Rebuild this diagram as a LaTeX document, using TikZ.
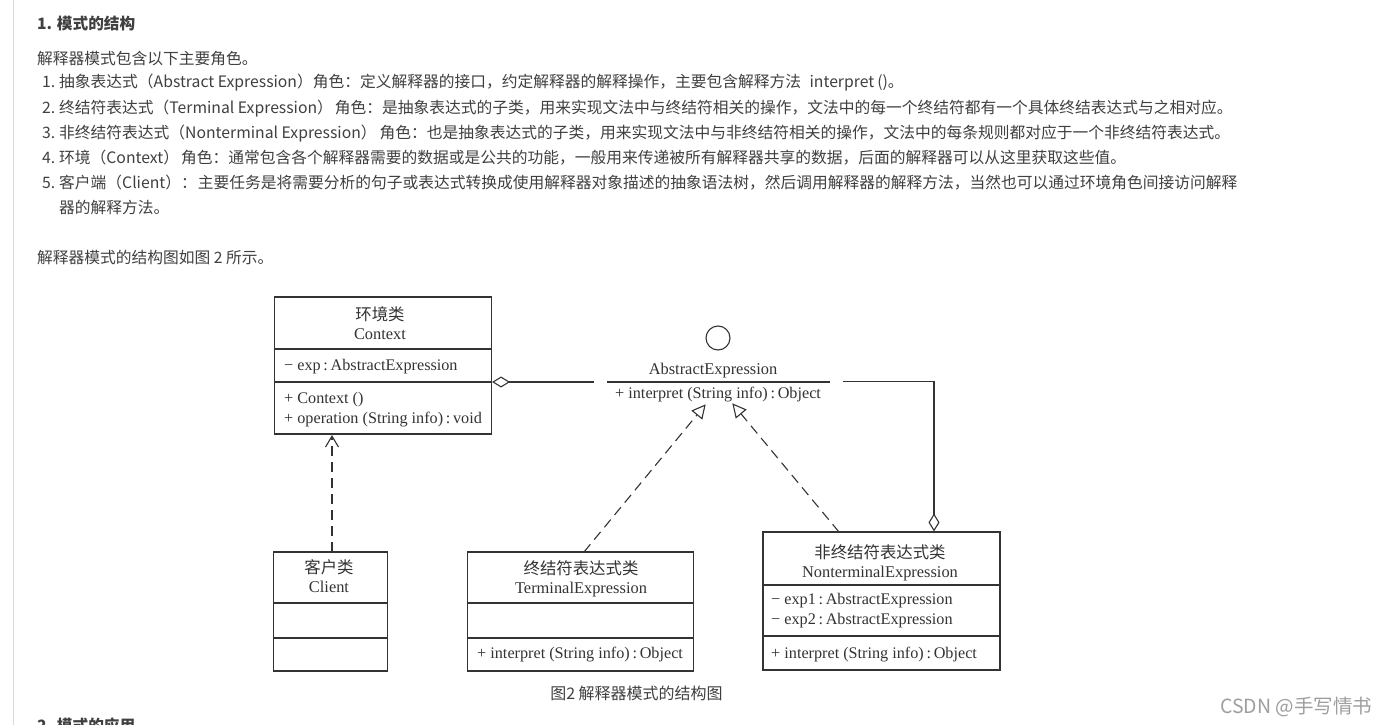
\documentclass[tikz,border=0pt]{standalone}
\usepackage{fontspec}
\setmainfont{Noto Sans CJK SC}
\newfontfamily\serifl{Liberation Serif}
\newfontfamily\cjkf{Noto Sans CJK SC}
\usetikzlibrary{arrows.meta}
\definecolor{webtext}{HTML}{404040}
\definecolor{uml}{HTML}{333333}
\tikzset{
  webline/.style={anchor=base west,inner sep=0pt,text=webtext,font=\cjkf\fontsize{15.75}{15.75}\selectfont},
  webhead/.style={anchor=base west,inner sep=0pt,text=webtext,font=\cjkf\bfseries\fontsize{15.65}{15.65}\selectfont},
  umlbox/.style={draw=uml,line width=1.1pt,inner sep=0pt,fill=white},
  umlrule/.style={draw=uml,line width=1.1pt},
  umltitle/.style={anchor=base,inner sep=0pt,text=black!80,font=\cjkf\fontsize{16.4}{16.4}\selectfont},
  umlname/.style={anchor=base,inner sep=0pt,text=black!80,font=\serifl\fontsize{16.4}{16.4}\selectfont},
  umlmember/.style={anchor=base west,inner sep=0pt,text=black!80,font=\serifl\fontsize{16.2}{16.2}\selectfont},
  umlline/.style={draw=uml,line width=1.1pt},
  realize/.style={draw=uml,line width=1.1pt,dash pattern=on 10pt off 6pt,-{Triangle[open,fill=white,length=14pt,width=14pt]}},
  depend/.style={draw=uml,line width=1.1pt,dash pattern=on 10pt off 6pt,-{Straight Barb[length=11pt,width=13pt]}},
  aggreg/.style={draw=uml,line width=1.1pt,{Diamond[open,fill=white,length=18pt,width=11pt]}-},
}
\begin{document}
\begin{tikzpicture}[x=1pt,y=-1pt]
\useasboundingbox (0,0) rectangle (1386,725);
\clip (0,0) rectangle (1386,725);
\fill[white] (0,0) rectangle (1386,725);
\coordinate (barT) at (13.5,0);
\coordinate (barB) at (13.5,725);
\draw[black!15,line width=1pt] (barT) -- (barB);
\node[webhead] (h1) at (37,30) {1. 模式的结构};
\node[webline] (p0) at (37,64) {解释器模式包含以下主要角色。};
\node[webline] (n1) at (42,88) {1.};
\node[webline] (l1) at (59,88) {抽象表达式（Abstract Expression）角色：定义解释器的接口，约定解释器的解释操作，主要包含解释方法\hspace{5pt} interpret\hspace{3pt}()。};
\node[webline] (n2) at (42,113) {2.};
\node[webline] (l2) at (59,113) {终结符表达式（Terminal Expression）\hspace{2pt}角色：是抽象表达式的子类，用来实现文法中与终结符相关的操作，文法中的每一个终结符都有一个具体终结表达式与之相对应。};
\node[webline] (n3) at (42,138) {3.};
\node[webline] (l3) at (59,138) {非终结符表达式（Nonterminal Expression）\hspace{3pt}角色：也是抽象表达式的子类，用来实现文法中与非终结符相关的操作，文法中的每条规则都对应于一个非终结符表达式。};
\node[webline] (n4) at (42,163) {4.};
\node[webline] (l4) at (59,163) {环境（Context）\hspace{2pt}角色：通常包含各个解释器需要的数据或是公共的功能，一般用来传递被所有解释器共享的数据，后面的解释器可以从这里获取这些值。};
\node[webline] (n5) at (42,188) {5.};
\node[webline] (l5) at (59,188) {客户端（Client）：\hspace{1pt}主要任务是将需要分析的句子或表达式转换成使用解释器对象描述的抽象语法树，然后调用解释器的解释方法，当然也可以通过环境角色间接访问解释};
\node[webline] (l5b) at (59,213) {器的解释方法。};
\node[webline] (p1) at (37,263) {解释器模式的结构图如图 2 所示。};

% Context
\node[umlbox,minimum width=217pt,minimum height=137pt] (ctx) at (383,365.5) {};
\draw[umlrule] (ctx.west |- 0,349) -- (ctx.east |- 0,349);
\draw[umlrule] (ctx.west |- 0,382) -- (ctx.east |- 0,382);
\node[umltitle] (ctxT) at (380,320) {环境类};
\node[umlname] (ctxN) at (380,339) {Context};
\node[umlmember] (ctxA) at (284,370) {− exp\,:\,AbstractExpression};
\node[umlmember] (ctxM1) at (284,403) {+ Context ()};
\node[umlmember] (ctxM2) at (284,423) {+ operation (String info)\,:\,void};

% Client
\node[umlbox,minimum width=114pt,minimum height=119pt] (cli) at (330.5,611.5) {};
\draw[umlrule] (cli.west |- 0,603) -- (cli.east |- 0,603);
\draw[umlrule] (cli.west |- 0,638) -- (cli.east |- 0,638);
\node[umltitle] (cliT) at (329,573) {客户类};
\node[umlname] (cliN) at (329,592) {Client};

% Terminal
\node[umlbox,minimum width=226pt,minimum height=119pt] (ter) at (580.5,611.5) {};
\draw[umlrule] (ter.west |- 0,603) -- (ter.east |- 0,603);
\draw[umlrule] (ter.west |- 0,638) -- (ter.east |- 0,638);
\node[umltitle] (terT) at (581,574) {终结符表达式类};
\node[umlname] (terN) at (581,593) {TerminalExpression};
\node[umlmember] (terM) at (477,658) {+ interpret (String info)\,:\,Object};

% Nonterminal
\node[umlbox,minimum width=237pt,minimum height=138pt] (non) at (881.5,601) {};
\draw[umlrule] (non.west |- 0,585) -- (non.east |- 0,585);
\draw[umlrule] (non.west |- 0,636) -- (non.east |- 0,636);
\node[umltitle] (nonT) at (880,558) {非终结符表达式类};
\node[umlname] (nonN) at (880,577) {NonterminalExpression};
\node[umlmember] (nonA1) at (771,604) {− exp1\,:\,AbstractExpression};
\node[umlmember] (nonA2) at (771,624) {− exp2\,:\,AbstractExpression};
\node[umlmember] (nonM) at (771,658) {+ interpret (String info)\,:\,Object};

% AbstractExpression interface
\node[draw=uml,line width=1.1pt,circle,minimum size=24pt,inner sep=0pt] (ifc) at (718,338) {};
\node[umlname] (absN) at (713,374) {AbstractExpression};
\coordinate (absL) at (607,382);
\coordinate (absR) at (830,382);
\draw[umlline] (absL) -- (absR);
\node[umlmember] (absM) at (615,398) {+ interpret (String info)\,:\,Object};

% connectors
\coordinate (aggEnd) at (594,382);
\draw[aggreg] (ctx.east |- aggEnd) -- (aggEnd);
\coordinate (aggStart) at (843,381.5);
\coordinate (nonTop) at (934,532);
\draw[aggreg] (non.north -| nonTop) -- (aggStart -| nonTop) -- (aggStart);
\coordinate (cliTop) at (332,552);
\coordinate (ctxBot) at (332,435);
\draw[depend] (cliTop) -- (ctxBot);
\coordinate (terStart) at (584,552);
\coordinate (terTip) at (705.7,404.3);
\draw[realize] (terStart) -- (terTip);
\coordinate (nonStart) at (839,532);
\coordinate (nonTip) at (732.3,403.3);
\draw[realize] (nonStart) -- (nonTip);

\node[anchor=base,inner sep=0pt,text=webtext,font=\cjkf\fontsize{16}{16}\selectfont] (cap) at (636.5,699) {图2 解释器模式的结构图};
\node[webhead] (h2) at (37,731) {2. 模式的应用};
\node[anchor=base east,inner sep=0pt,text=black!38,font=\cjkf\fontsize{19.5}{19.5}\selectfont] (wm) at (1372.5,713) {CSDN @手写情书};
\end{tikzpicture}
\end{document}
